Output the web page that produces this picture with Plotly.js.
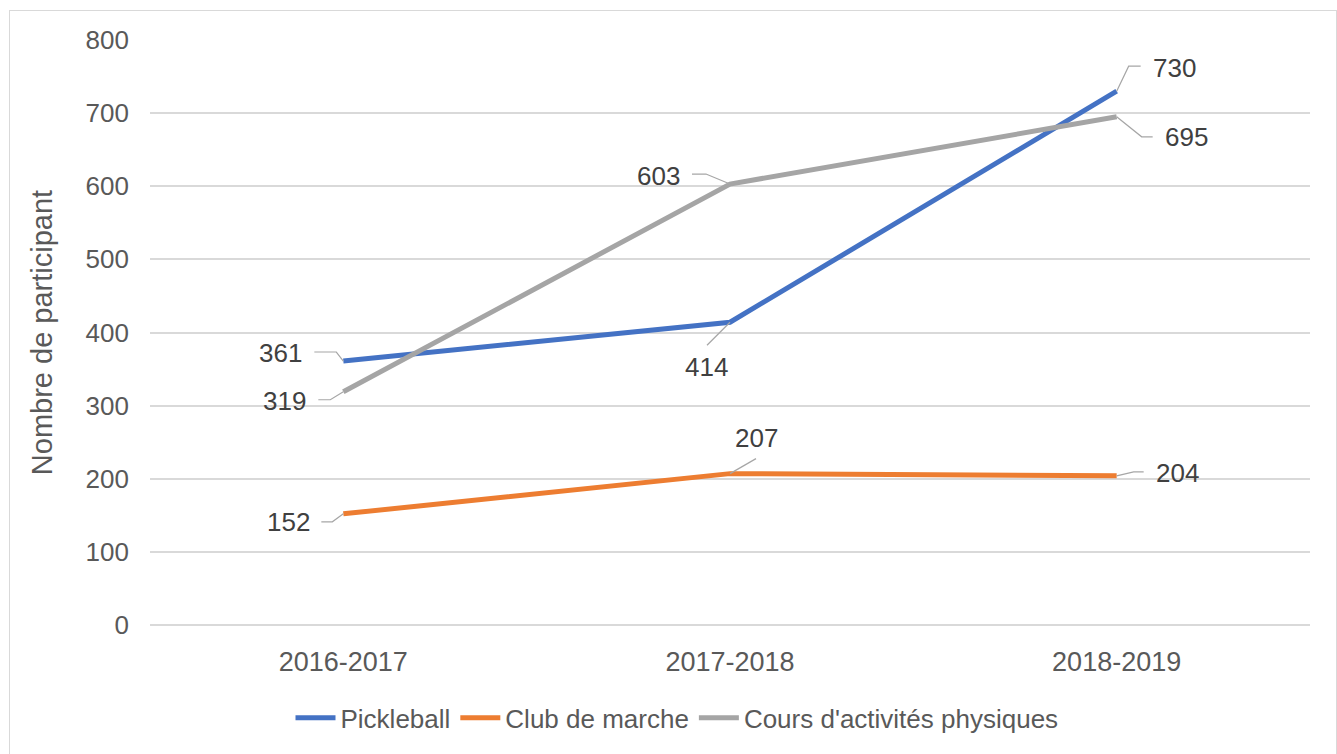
<!DOCTYPE html>
<html>
<head>
<meta charset="utf-8">
<script src="https://cdn.plot.ly/plotly-3.0.1.min.js"></script>
<style>
html, body { margin: 0; padding: 0; background: #ffffff; }
#chart { width: 1337px; height: 754px; }
#frame { position: absolute; left: 9px; top: 10px; width: 1326px; height: 750px; border: 1px solid #d9d9d9; pointer-events: none; }
</style>
</head>
<body>
<div id="chart"></div>
<div id="frame"></div>
<script>
// ---- data ----
const categories = ["2016-2017", "2017-2018", "2018-2019"];
const seriesNames = ["Pickleball", "Club de marche", "Cours d'activités physiques"];
const pickleball = [361, 414, 730];
const clubMarche = [152, 207, 204];
const coursActivites = [319, 603, 695];
const yTickValues = [0, 100, 200, 300, 400, 500, 600, 700, 800];
const yAxisTitle = "Nombre de participant";

// ---- styling ----
const colors = ["#4472C4", "#ED7D31", "#A5A5A5"];
const FONT = "Liberation Sans, Arial, sans-serif";
const seriesValues = [pickleball, clubMarche, coursActivites];

// label placement per series / point: [xshift, yshift, xanchor, leader path offsets]
const labelStyle = [
  [ // Pickleball
    {dx: -39, dy: 8, anchor: "right", path: [[0,0],[-7,9],[-29,9]]},
    {dx: -24, dy: -45, anchor: "center", path: [[0,0],[-23,-23]]},
    {dx: 34, dy: 23, anchor: "left", path: [[0,0],[12,25],[24,25]]}
  ],
  [ // Club de marche
    {dx: -31, dy: -8, anchor: "right", path: [[0,0],[-11,-8],[-22,-8]]},
    {dx: 26, dy: 36, anchor: "center", path: [[0,0],[26,15]]},
    {dx: 37, dy: 3, anchor: "left", path: [[0,0],[17,4],[27,4]]}
  ],
  [ // Cours
    {dx: -35, dy: -9, anchor: "right", path: [[0,0],[-13,-8],[-25,-8]]},
    {dx: -48, dy: 8, anchor: "right", path: [[0,0],[-24,10],[-38,10]]},
    {dx: 46, dy: -20, anchor: "left", path: [[0,0],[25,-20],[36,-20]]}
  ]
];

const traces = seriesNames.map((name, i) => ({
  type: "scatter",
  mode: "lines",
  name: name,
  x: categories,
  y: seriesValues[i],
  line: {color: colors[i], width: 5},
  hoverinfo: "x+y+name"
}));

const annotations = [];
const shapes = [];
seriesValues.forEach((vals, i) => {
  vals.forEach((v, j) => {
    const st = labelStyle[i][j];
    annotations.push({
      x: categories[j], y: v, xref: "x", yref: "y",
      text: String(v), showarrow: false,
      xanchor: st.anchor, yanchor: "middle",
      xshift: st.dx, yshift: st.dy,
      font: {family: FONT, size: 26, color: "#404040"}
    });
    shapes.push({
      type: "path", xref: "x", yref: "y",
      xsizemode: "pixel", ysizemode: "pixel",
      xanchor: categories.indexOf(categories[j]), yanchor: v,
      path: "M " + st.path.map(p => p[0] + "," + p[1]).join(" L "),
      line: {color: "#A6A6A6", width: 1.2},
      layer: "above"
    });
  });
});

const layout = {
  width: 1337, height: 754,
  margin: {l: 150, r: 27, t: 40, b: 129},
  paper_bgcolor: "#ffffff",
  plot_bgcolor: "#ffffff",
  font: {family: FONT, size: 26, color: "#595959"},
  showlegend: true,
  legend: {
    orientation: "h",
    xref: "container", yref: "container",
    x: 677 / 1337, xanchor: "center",
    y: 0.048, yanchor: "middle",
    itemwidth: 40,
    font: {family: FONT, size: 26, color: "#595959"},
    itemclick: false
  },
  xaxis: {
    type: "category",
    range: [-0.5, 2.5],
    showgrid: false, zeroline: false, showline: false,
    ticks: "",
    ticklabelstandoff: 18,
    tickfont: {family: FONT, size: 27, color: "#595959"}
  },
  yaxis: {
    range: [0, 800],
    tickvals: yTickValues,
    showgrid: true, gridcolor: "#D9D9D9", gridwidth: 1.5,
    zeroline: true, zerolinecolor: "#D9D9D9", zerolinewidth: 1.5,
    showline: false, ticks: "",
    ticklabelstandoff: 20,
    tickfont: {family: FONT, size: 26, color: "#595959"},
    title: {text: yAxisTitle, standoff: 24, font: {family: FONT, size: 29, color: "#595959"}}
  },
  annotations: annotations,
  shapes: shapes
};

Plotly.newPlot("chart", traces, layout, {displayModeBar: false, staticPlot: false});
</script>
</body>
</html>
